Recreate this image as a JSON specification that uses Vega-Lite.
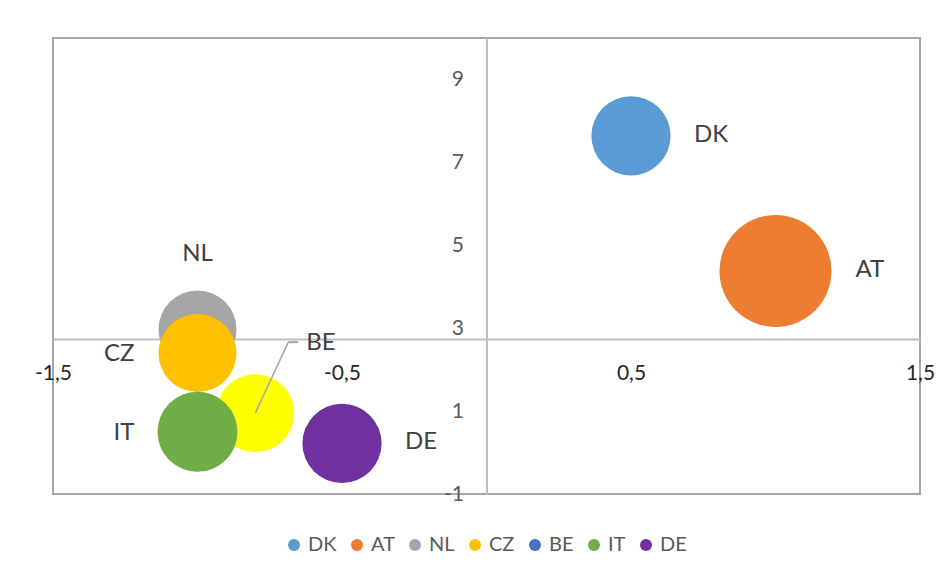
{
  "$schema": "https://vega.github.io/schema/vega-lite/v6.json",
  "width": 867,
  "height": 456,
  "autosize": "none",
  "padding": {"left": 53, "top": 38, "right": 32, "bottom": 82},
  "background": "white",
  "config": {
    "view": {"stroke": "#A6A6A6", "strokeWidth": 2},
    "font": "Lato"
  },
  "data": {
    "values": [
      {"country": "DK", "x": 0.5, "y": 7.64, "s": 1.0},
      {"country": "AT", "x": 1.0, "y": 4.38, "s": 2.0},
      {"country": "NL", "x": -1.0, "y": 2.97, "s": 0.97},
      {"country": "CZ", "x": -1.0, "y": 2.4, "s": 0.97},
      {"country": "BE", "x": -0.8, "y": 0.95, "s": 0.97},
      {"country": "IT", "x": -1.0, "y": 0.5, "s": 1.02},
      {"country": "DE", "x": -0.5, "y": 0.22, "s": 1.0}
    ]
  },
  "encoding": {
    "x": {
      "field": "x", "type": "quantitative",
      "scale": {"domain": [-1.5, 1.5], "nice": false, "zero": false},
      "axis": {
        "orient": "bottom", "offset": -155, "title": null, "grid": false,
        "values": [-1.5, -0.5, 0.5, 1.5],
        "labelExpr": "(datum.value<0?'-':'')+replace(format(abs(datum.value),'.1f'),'.',',')",
        "ticks": false, "tickSize": 0,
        "domainColor": "#BFBFBF", "domainWidth": 2,
        "labelFont": "Lato", "labelFontSize": 21, "labelColor": "#262626",
        "labelPadding": 34, "labelBaseline": "middle",
        "labelFlush": false, "labelOverlap": false, "labelBound": false
      }
    },
    "y": {
      "field": "y", "type": "quantitative",
      "scale": {"domain": [-1, 10], "nice": false, "zero": false},
      "axis": {
        "orient": "left", "offset": -433.5, "title": null, "grid": false,
        "values": [-1, 1, 3, 5, 7, 9],
        "labelExpr": "(datum.value<0?'-':'')+format(abs(datum.value),'d')",
        "ticks": false, "tickSize": 0,
        "domainColor": "#BFBFBF", "domainWidth": 2,
        "labelFont": "Lato", "labelFontSize": 21, "labelColor": "#595959",
        "labelPadding": 23, "labelBaseline": "middle",
        "labelFlush": false, "labelOverlap": false, "labelBound": false
      }
    }
  },
  "layer": [
    {
      "transform": [{"filter": {"field": "country", "oneOf": ["DK", "AT", "NL", "CZ"]}}],
      "mark": {"type": "circle", "opacity": 1, "strokeWidth": 0},
      "encoding": {
        "size": {"field": "s", "type": "quantitative", "scale": {"domain": [0, 2], "range": [0, 12544]}, "legend": null},
        "color": {
          "field": "country", "type": "nominal",
          "scale": {
            "domain": ["DK", "AT", "NL", "CZ", "BE", "IT", "DE"],
            "range": ["#5B9BD5", "#ED7D31", "#A5A5A5", "#FFC000", "#4472C4", "#70AD47", "#7030A0"]
          },
          "legend": {
            "title": null, "orient": "none", "direction": "horizontal", "columns": 7,
            "legendX": 231, "legendY": 497,
            "symbolType": "circle", "symbolSize": 144, "symbolStrokeWidth": 0,
            "labelFont": "Lato", "labelFontSize": 20, "labelColor": "#595959",
            "labelOffset": 4, "columnPadding": 10
          }
        }
      }
    },
    {
      "transform": [{"filter": {"field": "country", "equal": "BE"}}],
      "mark": {"type": "circle", "opacity": 1, "strokeWidth": 0, "color": "#FFFF00"},
      "encoding": {
        "size": {"field": "s", "type": "quantitative", "scale": {"domain": [0, 2], "range": [0, 12544]}, "legend": null}
      }
    },
    {
      "transform": [{"filter": {"field": "country", "oneOf": ["IT", "DE"]}}],
      "mark": {"type": "circle", "opacity": 1, "strokeWidth": 0},
      "encoding": {
        "size": {"field": "s", "type": "quantitative", "scale": {"domain": [0, 2], "range": [0, 12544]}, "legend": null},
        "color": {"field": "country", "type": "nominal"}
      }
    },
    {
      "transform": [{"filter": {"field": "country", "equal": "BE"}}],
      "mark": {"type": "rule", "color": "#A6A6A6", "strokeWidth": 1.5, "x2Offset": 33, "y2Offset": -71},
      "encoding": {"x2": {"field": "x"}, "y2": {"field": "y"}}
    },
    {
      "transform": [{"filter": {"field": "country", "equal": "BE"}}],
      "mark": {"type": "rule", "color": "#A6A6A6", "strokeWidth": 2, "xOffset": 33, "yOffset": -71, "x2Offset": 43, "y2Offset": -71},
      "encoding": {"x2": {"field": "x"}, "y2": {"field": "y"}}
    },
    {
      "transform": [{"filter": {"field": "country", "oneOf": ["DK", "DE"]}}],
      "mark": {"type": "text", "align": "left", "baseline": "middle", "dx": 63, "dy": -1, "font": "Lato", "fontSize": 24, "color": "#404040"},
      "encoding": {"text": {"field": "country"}}
    },
    {
      "transform": [{"filter": {"field": "country", "equal": "AT"}}],
      "mark": {"type": "text", "align": "left", "baseline": "middle", "dx": 80, "dy": -1, "font": "Lato", "fontSize": 24, "color": "#404040"},
      "encoding": {"text": {"field": "country"}}
    },
    {
      "transform": [{"filter": {"field": "country", "oneOf": ["CZ", "IT"]}}],
      "mark": {"type": "text", "align": "right", "baseline": "middle", "dx": -63, "dy": 1, "font": "Lato", "fontSize": 24, "color": "#404040"},
      "encoding": {"text": {"field": "country"}}
    },
    {
      "transform": [{"filter": {"field": "country", "equal": "NL"}}],
      "mark": {"type": "text", "align": "center", "baseline": "middle", "dy": -75, "font": "Lato", "fontSize": 24, "color": "#404040"},
      "encoding": {"text": {"field": "country"}}
    },
    {
      "transform": [{"filter": {"field": "country", "equal": "BE"}}],
      "mark": {"type": "text", "align": "left", "baseline": "middle", "dx": 51, "dy": -70, "font": "Lato", "fontSize": 24, "color": "#404040"},
      "encoding": {"text": {"field": "country"}}
    }
  ]
}
